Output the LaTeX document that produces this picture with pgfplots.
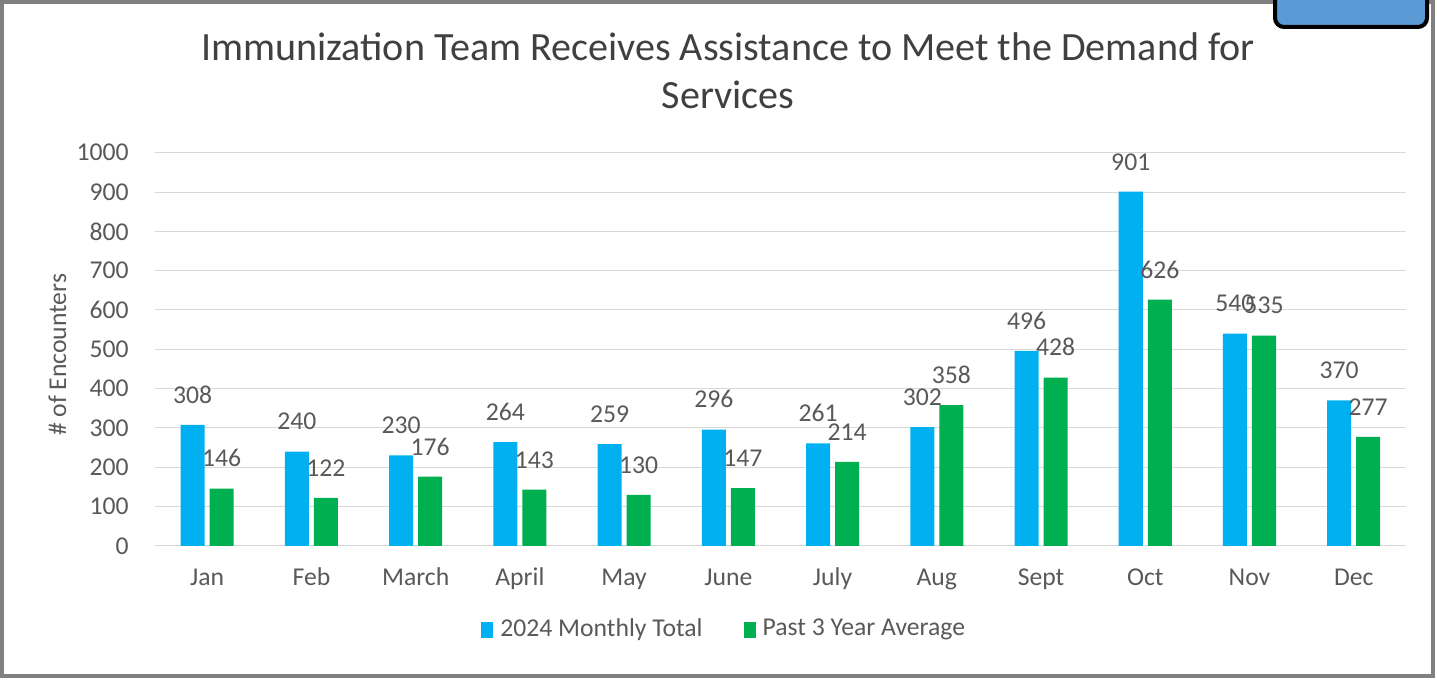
\documentclass[border=0pt]{standalone}
\usepackage{pgfplots}
\pgfplotsset{compat=1.18}
\usepackage{fontspec}
\setmainfont{Carlito}

\definecolor{barblue}{HTML}{00B0F0}
\definecolor{bargreen}{HTML}{00B050}
\definecolor{gridgray}{HTML}{D9D9D9}
\definecolor{txtgray}{HTML}{595959}
\definecolor{titlegray}{HTML}{404040}
\definecolor{framegray}{HTML}{808080}
\definecolor{boxblue}{HTML}{5B9BD5}

\newcommand{\smallfont}{\fontsize{7.3}{8.8}\selectfont}

\begin{document}
\begin{tikzpicture}
\begin{scope}[x=0.01cm,y=0.01cm]
\useasboundingbox (0,0) rectangle (1437,680);
% frame and the box at top right
\draw[line width=0.04cm, framegray] (2,4) rectangle (1433,678);
\draw[line width=0.04cm, black, fill=boxblue, rounded corners=0.09cm] (1275,653) rectangle (1427,720);
% title
\node[align=center, font=\fontsize{11.4}{13.7}\selectfont, text=titlegray] at (728,609)
  {Immunization Team Receives Assistance to Meet the Demand for\\Services};
\end{scope}

\begin{axis}[
  at={(1.55cm,1.34cm)}, anchor=south west,
  scale only axis, width=12.5cm, height=3.93cm,
  xmin=-0.5, xmax=11.5, ymin=0, ymax=1000,
  xtick=data,
  xticklabels={Jan,Feb,March,April,May,June,July,Aug,Sept,Oct,Nov,Dec},
  ytick={0,100,...,1000},
  ymajorgrids, major grid style={gridgray, line width=0.01cm},
  axis line style={draw=none},
  major tick length=0pt,
  tick label style={font=\smallfont, text=txtgray},
  /pgf/number format/assume math mode=true,
  /pgf/number format/1000 sep={},
  yticklabel style={xshift=-0.14cm},
  xticklabel style={yshift=0cm, text height=1.6ex, text depth=0.3ex},
  ylabel={\# of Encounters},
  ylabel style={at={(axis description cs:-0.078,0.486)}, anchor=center, font=\smallfont, text=txtgray},
  ybar, bar width=0.24cm,
  nodes near coords,
  every node near coord/.append style={font=\smallfont, text=txtgray, yshift=0.09cm},
  legend style={at={(0.457,-0.214)}, anchor=center, draw=none, legend columns=2,
    font=\smallfont, text=txtgray,
    /tikz/every even column/.append style={column sep=0.34cm}},
  legend image code/.code={\fill[#1] (0cm,-0.078cm) rectangle (0.12cm,0.078cm);},
]
\addplot[fill=barblue, draw=none, bar shift=-0.145cm] coordinates {
  (0,308) (1,240) (2,230) (3,264) (4,259) (5,296)
  (6,261) (7,302) (8,496) (9,901) (10,540) (11,370)};
\addplot[fill=bargreen, draw=none, bar shift=0.145cm] coordinates {
  (0,146) (1,122) (2,176) (3,143) (4,130) (5,147)
  (6,214) (7,358) (8,428) (9,626) (10,535) (11,277)};
\legend{2024 Monthly Total, Past 3 Year Average}
\end{axis}
\end{tikzpicture}
\end{document}
